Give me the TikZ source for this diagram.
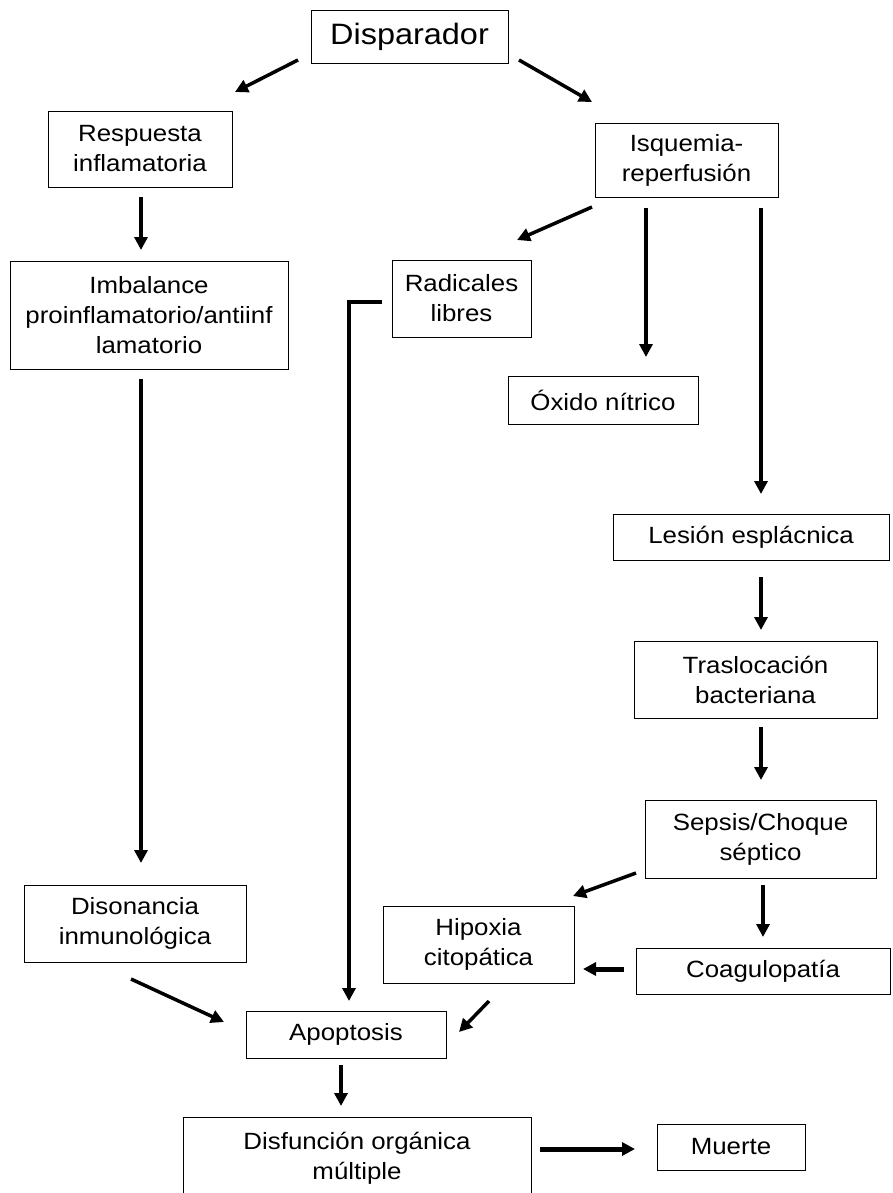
\documentclass[tikz,border=0pt]{standalone}
\usepackage{fontspec}
\setmainfont{Liberation Sans}[FakeStretch=1.1]
\usetikzlibrary{arrows.meta}
\begin{document}
\begin{tikzpicture}[x=1pt,y=-1pt,
  box/.style={draw,line width=0.9pt,inner sep=0pt,align=center,font=\fontsize{23.5}{30}\selectfont},
  arr/.style={line width=3.5pt,-{Triangle[width=13pt,length=13pt]}},
  thickarr/.style={arr,line width=5pt}]
\useasboundingbox[fill=white] (0,0) rectangle (892,1193);
\node[box,minimum width=197pt,minimum height=53pt,font=\fontsize{29.5}{36}\selectfont] (disp) at (409.5,36.5) {Disparador};
\node[box,minimum width=184pt,minimum height=76pt] (resp) at (140,149) {Respuesta\\inflamatoria};
\node[box,minimum width=183pt,minimum height=74pt] (isq) at (686.5,160) {Isquemia-\\reperfusión};
\node[box,minimum width=278pt,minimum height=108pt] (imb) at (149,315) {Imbalance\\proinflamatorio/antiinf\\lamatorio};
\node[box,minimum width=139pt,minimum height=77pt] (rad) at (461.5,298.5) {Radicales\\libres};
\node[box,minimum width=190pt,minimum height=48pt] (oxi) at (603,400) {Óxido nítrico};
\node[box,minimum width=276pt,minimum height=46pt] (les) at (751,537) {Lesión esplácnica};
\node[box,minimum width=243pt,minimum height=77pt] (tras) at (755.5,679.5) {Traslocación\\bacteriana};
\node[box,minimum width=231pt,minimum height=78pt] (seps) at (760.5,839) {Sepsis/Choque\\séptico};
\node[box,minimum width=222pt,minimum height=77pt] (dison) at (135,923.5) {Disonancia\\inmunológica};
\node[box,minimum width=191pt,minimum height=77pt] (hip) at (478.5,944.5) {Hipoxia\\citopática};
\node[box,minimum width=254pt,minimum height=46pt] (coag) at (763,971) {Coagulopatía};
\node[box,minimum width=200pt,minimum height=47pt] (apop) at (346,1034.5) {Apoptosis};
\node[box,minimum width=348pt,minimum height=83pt] (disf) at (357,1158.5) {Disfunción orgánica\\múltiple};
\node[box,minimum width=148pt,minimum height=46pt] (muer) at (731,1147) {Muerte};
% connector end points
\coordinate (a1) at (298,60);  \coordinate (a2) at (235,92);
\coordinate (b1) at (519,60);  \coordinate (b2) at (592,102);
\coordinate (c1) at (141,197); \coordinate (c2) at (141,250);
\coordinate (d1) at (592,207); \coordinate (d2) at (517,240);
\coordinate (e1) at (646,208); \coordinate (e2) at (646,357);
\coordinate (f1) at (761,208); \coordinate (f2) at (761,494);
\coordinate (g1) at (382,302); \coordinate (g2) at (349,302); \coordinate (g3) at (349,1001);
\coordinate (h1) at (141,379); \coordinate (h2) at (141,863);
\coordinate (i1) at (761,577); \coordinate (i2) at (761,630);
\coordinate (j1) at (761,727); \coordinate (j2) at (761,780);
\coordinate (k1) at (636,873); \coordinate (k2) at (573,896);
\coordinate (l1) at (763,885); \coordinate (l2) at (763,937);
\coordinate (m1) at (624,969); \coordinate (m2) at (583,969);
\coordinate (n1) at (489,1001); \coordinate (n2) at (459,1032);
\coordinate (o1) at (131,979); \coordinate (o2) at (224,1022);
\coordinate (p1) at (341,1065); \coordinate (p2) at (341,1106);
\coordinate (q1) at (540,1149); \coordinate (q2) at (635,1149);
\draw[arr] (a1) -- (a2);
\draw[arr] (b1) -- (b2);
\draw[arr] (c1) -- (c2);
\draw[arr] (d1) -- (d2);
\draw[arr] (e1) -- (e2);
\draw[arr] (f1) -- (f2);
\draw[arr] (g1) -- (g2) -- (g3);
\draw[arr] (h1) -- (h2);
\draw[arr] (i1) -- (i2);
\draw[arr] (j1) -- (j2);
\draw[arr] (k1) -- (k2);
\draw[arr] (l1) -- (l2);
\draw[thickarr] (m1) -- (m2);
\draw[arr] (n1) -- (n2);
\draw[arr] (o1) -- (o2);
\draw[arr] (p1) -- (p2);
\draw[thickarr] (q1) -- (q2);
\end{tikzpicture}
\end{document}
